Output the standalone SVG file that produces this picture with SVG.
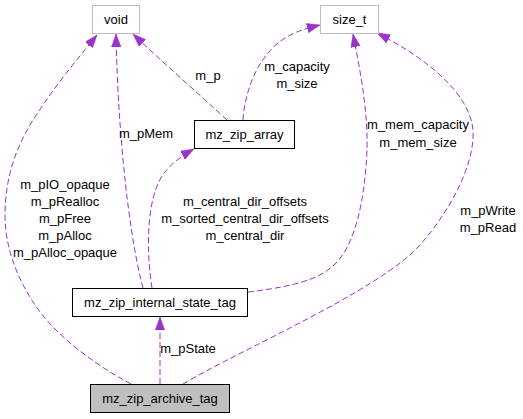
<svg xmlns="http://www.w3.org/2000/svg" width="523" height="419" viewBox="0 0 523 419">
<style>
.n rect{fill:#ffffff;stroke:#000000;stroke-width:1}
.n.g rect{stroke:#bfbfbf}
.n.sel rect{fill:#bfbfbf}
text{font-family:"Liberation Sans",Arial,sans-serif;font-size:13px;fill:#000000}
.c{text-anchor:middle}
.e{fill:none;stroke:#9a32cd;stroke-width:1;stroke-dasharray:6,3}
</style>
<defs>
<marker id="ah" markerUnits="userSpaceOnUse" markerWidth="15" markerHeight="11" refX="13" refY="4.75" orient="auto">
<path d="M0,0 L13,4.75 L0,9.5 z" fill="#9a32cd" stroke="#9a32cd" stroke-width="0.5"/>
</marker>
</defs>
<rect width="523" height="419" fill="#ffffff"/>
<g id="connectors">
<path class="e" marker-end="url(#ah)" d="M131,384 C95,365 55,335 35,305 C15,275 5,245 5,215 C5,180 15,150 30,125 C50,92 75,62 97,35"/>
<path class="e" marker-end="url(#ah)" d="M143,288 C130,240 118,140 116,34"/>
<path class="e" marker-end="url(#ah)" d="M152,288 C146,250 146,195 165,172 C172,163 183,155 194,149"/>
<path class="e" marker-end="url(#ah)" d="M227,120 C200,95 160,60 133,34"/>
<path class="e" marker-end="url(#ah)" d="M243,120 C245,90 258,55 285,38 C296,31 308,28 320,25"/>
<path class="e" marker-end="url(#ah)" d="M248,292 C290,287 320,280 335,264 C355,245 365,200 367,150 C368,110 360,70 353,34"/>
<path class="e" marker-end="url(#ah)" d="M183,384 C240,350 380,290 420,245 C455,205 475,160 473,130 C470,95 430,60 377,33"/>
<path class="e" marker-end="url(#ah)" d="M160,384 L160,317"/>
<text class="c" x="65" y="189">m_pIO_opaque</text>
<text class="c" x="65" y="206">m_pRealloc</text>
<text class="c" x="65" y="223">m_pFree</text>
<text class="c" x="65" y="240">m_pAlloc</text>
<text class="c" x="65" y="257">m_pAlloc_opaque</text>
<text class="c" x="146" y="138">m_pMem</text>
<text class="c" x="245" y="206">m_central_dir_offsets</text>
<text class="c" x="245" y="223">m_sorted_central_dir_offsets</text>
<text class="c" x="245" y="240">m_central_dir</text>
<text class="c" x="208" y="80">m_p</text>
<text class="c" x="297" y="71">m_capacity</text>
<text class="c" x="297" y="88">m_size</text>
<text class="c" x="418" y="129">m_mem_capacity</text>
<text class="c" x="418" y="147">m_mem_size</text>
<text class="c" x="488" y="215">m_pWrite</text>
<text class="c" x="488" y="232">m_pRead</text>
<text class="c" x="188" y="353">m_pState</text>
</g>
<g id="void" class="n g">
<rect x="92.5" y="5.5" width="47" height="28"/>
<text class="c" x="116" y="23.5">void</text>
</g>
<g id="size_t" class="n g">
<rect x="320.5" y="5.5" width="58" height="28"/>
<text class="c" x="349.5" y="23.5">size_t</text>
</g>
<g id="mz_zip_array" class="n">
<rect x="194.5" y="120.5" width="100" height="28"/>
<text class="c" x="244.5" y="139">mz_zip_array</text>
</g>
<g id="mz_zip_internal_state_tag" class="n">
<rect x="72.5" y="288.5" width="175" height="28"/>
<text class="c" x="160" y="307">mz_zip_internal_state_tag</text>
</g>
<g id="mz_zip_archive_tag" class="n sel">
<rect x="90.5" y="384.5" width="139" height="28"/>
<text class="c" x="160" y="403">mz_zip_archive_tag</text>
</g>
</svg>
